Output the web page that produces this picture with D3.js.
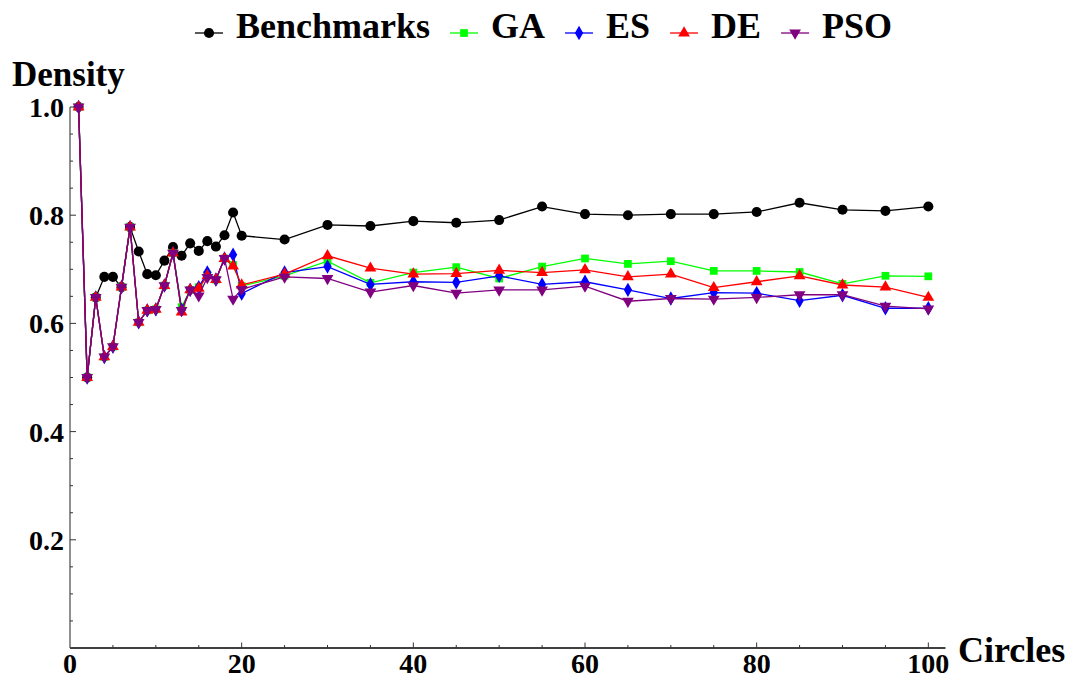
<!DOCTYPE html>
<html><head><meta charset="utf-8">
<script src="https://cdn.jsdelivr.net/npm/d3@7"></script>
<style>
body{margin:0;background:#fff;}
text{font-family:"Liberation Serif","Times New Roman",serif;font-weight:bold;}
</style></head>
<body>
<svg id="chart" width="1068" height="678"></svg>
<script>
const xValues = [1,2,3,4,5,6,7,8,9,10,11,12,13,14,15,16,17,18,19,20,25,30,35,40,45,50,55,60,65,70,75,80,85,90,95,100];
const benchmarks = [1.0,0.500,0.648,0.686,0.686,0.667,0.778,0.733,0.691,0.689,0.716,0.741,0.725,0.748,0.734,0.752,0.742,0.763,0.805,0.762,0.755,0.782,0.780,0.789,0.786,0.791,0.816,0.802,0.800,0.802,0.802,0.806,0.823,0.810,0.808,0.816];
const gaValues = [1.0,0.500,0.648,0.538,0.557,0.667,0.778,0.602,0.624,0.626,0.670,0.730,0.630,0.662,0.667,0.690,0.681,0.720,0.708,0.669,0.688,0.715,0.675,0.694,0.704,0.683,0.705,0.720,0.710,0.715,0.697,0.697,0.695,0.673,0.688,0.687];
const esValues = [1.0,0.500,0.648,0.538,0.557,0.667,0.778,0.602,0.624,0.626,0.670,0.730,0.625,0.662,0.667,0.694,0.681,0.720,0.727,0.655,0.694,0.705,0.672,0.677,0.676,0.688,0.672,0.677,0.662,0.646,0.657,0.656,0.642,0.652,0.628,0.628];
const deValues = [1.0,0.500,0.648,0.538,0.557,0.667,0.778,0.602,0.624,0.626,0.670,0.730,0.621,0.662,0.665,0.688,0.681,0.720,0.706,0.671,0.691,0.725,0.702,0.691,0.692,0.698,0.694,0.699,0.686,0.691,0.666,0.677,0.688,0.671,0.667,0.648];
const psoValues = [1.0,0.500,0.648,0.538,0.557,0.667,0.778,0.602,0.624,0.626,0.670,0.730,0.624,0.662,0.651,0.685,0.681,0.720,0.645,0.663,0.686,0.683,0.658,0.670,0.656,0.662,0.662,0.669,0.641,0.646,0.645,0.648,0.653,0.653,0.632,0.627];
const seriesNames = ["Benchmarks","GA","ES","DE","PSO"];
const xTickLabels = [0,20,40,60,80,100];
const yTickLabels = ["0.2","0.4","0.6","0.8","1.0"];

const seriesData = [benchmarks, gaValues, esValues, deValues, psoValues];
const colors = ["#000000","#00ff00","#0000ff","#ff0000","#800080"];
const shapes = ["circle","square","diamond","triangle","down"];

const svg = d3.select("#chart");
const x = d3.scaleLinear().domain([0,102]).range([70,945.5]);
const y = d3.scaleLinear().domain([0,1]).range([648,107]);

// x axis
const gx = svg.append("g");
gx.append("line").attr("x1",x(0)).attr("x2",x(102)).attr("y1",y(0)).attr("y2",y(0)).attr("stroke","#000").attr("stroke-width",1.3);
gx.selectAll("line.tick").data(d3.range(5,101,5)).enter().append("line")
  .attr("x1",d=>x(d)).attr("x2",d=>x(d)).attr("y1",y(0)).attr("y2",d=>y(0)-(d%20===0?5.5:3))
  .attr("stroke","#333").attr("stroke-width",1);
gx.selectAll("text").data(xTickLabels).enter().append("text")
  .attr("x",d=>x(d)).attr("y",673).attr("text-anchor","middle").attr("font-size",28).text(d=>d);

// y axis
const gy = svg.append("g");
gy.append("line").attr("x1",x(0)).attr("x2",x(0)).attr("y1",y(0)).attr("y2",y(1)).attr("stroke","#555").attr("stroke-width",1.3);
gy.selectAll("line.tick").data(d3.range(1,21).map(i=>i*0.05)).enter().append("line")
  .attr("x1",x(0)).attr("x2",(d,i)=>x(0)+((i+1)%4===0?6:3)).attr("y1",d=>y(d)).attr("y2",d=>y(d))
  .attr("stroke","#333").attr("stroke-width",1);
gy.selectAll("text").data(yTickLabels).enter().append("text")
  .attr("x",64).attr("y",d=>y(+d)+10).attr("text-anchor","end").attr("font-size",28).text(d=>d);

svg.append("text").attr("x",12).attr("y",86).attr("font-size",35).text("Density");
svg.append("text").attr("x",958).attr("y",662).attr("font-size",36).text("Circles");

function drawMarker(sel, shape, color, cx, cy){
  const sym = {circle:d3.symbolCircle, square:d3.symbolSquare, diamond:d3.symbolDiamond, triangle:d3.symbolTriangle, down:d3.symbolTriangle}[shape];
  const size = {circle:80, square:60, diamond:60, triangle:60, down:60}[shape];
  sel.attr("d", d3.symbol().type(sym).size(size)()).attr("fill",color)
    .attr("transform","translate("+cx+","+cy+")"+(shape==="down"?" rotate(180)":""));
}

const line = d3.line().x((d,i)=>x(xValues[i])).y(d=>y(d));
seriesData.forEach((vals, si)=>{
  const g = svg.append("g");
  g.append("path").datum(vals).attr("d",line).attr("fill","none").attr("stroke",colors[si]).attr("stroke-width",1.3);
  g.selectAll("path.m").data(vals).enter().append("path").attr("class","m")
    .each(function(d,i){ drawMarker(d3.select(this), shapes[si], colors[si], x(xValues[i]), y(d)); });
});

// legend
const legend = svg.append("g");
let lx = 195;
seriesNames.forEach((name, si)=>{
  legend.append("line").attr("x1",lx).attr("x2",lx+28).attr("y1",33).attr("y2",33).attr("stroke",colors[si]).attr("stroke-width",1.3);
  drawMarker(legend.append("path"), shapes[si], colors[si], lx+14, 33);
  const t = legend.append("text").attr("x",lx+41).attr("y",38).attr("font-size",36).text(name);
  const w = t.node().getComputedTextLength();
  lx = lx + 41 + w + 20;
});
</script>
</body></html>
